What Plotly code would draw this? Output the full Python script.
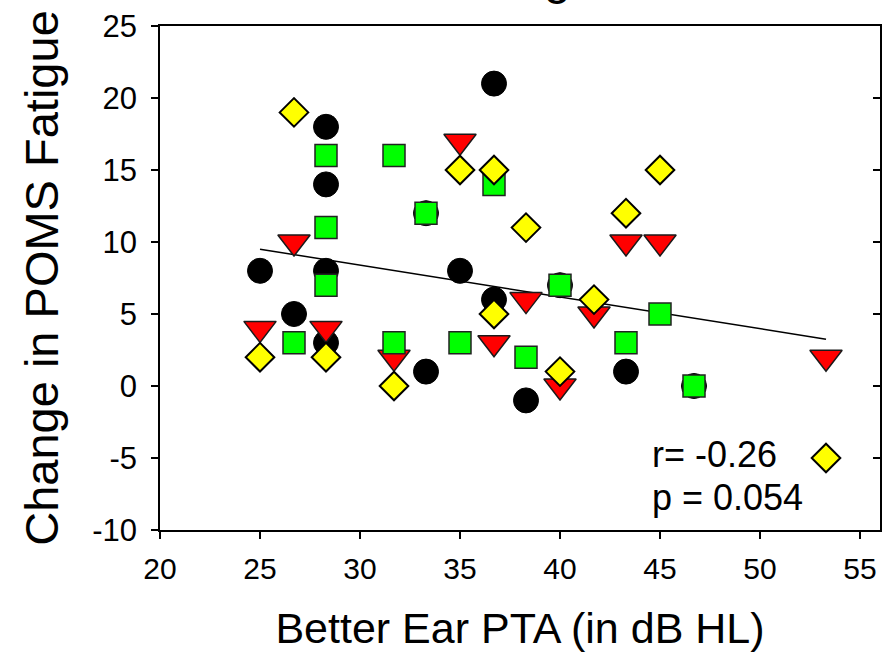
import plotly.graph_objects as go

# ---- data ----
circle_x = [25, 26.7, 28.3, 28.3, 28.3, 28.3, 33.3, 33.3, 35, 36.7, 36.7, 38.3, 40, 43.3, 46.7]
circle_y = [8, 5, 18, 14, 8, 3, 12, 1, 8, 21, 6, -1, 7, 1, 0]

tri_x = [25, 26.7, 28.3, 31.7, 35, 36.7, 38.3, 40, 41.7, 43.3, 45, 53.3]
tri_y = [4, 10, 4, 2, 17, 3, 6, 0, 5, 10, 10, 2]

square_x = [26.7, 28.3, 28.3, 28.3, 31.7, 31.7, 33.3, 35, 36.7, 38.3, 40, 43.3, 45, 46.7]
square_y = [3, 16, 11, 7, 16, 3, 12, 3, 14, 2, 7, 3, 5, 0]

diamond_x = [25, 26.7, 28.3, 31.7, 35, 36.7, 36.7, 38.3, 40, 41.7, 43.3, 45, 53.3]
diamond_y = [2, 19, 2, 0, 15, 15, 5, 11, 1, 6, 12, 15, -5]

fit_x = [25, 53.3]
fit_y = [9.5, 3.25]

x_ticks = [20, 25, 30, 35, 40, 45, 50, 55]
x_ticktext = ["20", "25", "30", "35", "40", "45", "50", "55"]
y_ticks = [-10, -5, 0, 5, 10, 15, 20, 25]
y_ticktext = ["-10", "-5", "0", "5", "10", "15", "20", "25"]

title_text = "Fatigue"
x_title = "Better Ear PTA (in dB HL)"
y_title = "Change in POMS Fatigue"
stat_r = "r= -0.26"
stat_p = "p = 0.054"

FONT = "Arial, 'Liberation Sans', sans-serif"

fig = go.Figure()

fig.add_trace(go.Scatter(x=fit_x, y=fit_y, mode="lines",
                         line=dict(color="black", width=1.5), showlegend=False,
                         hoverinfo="skip"))
fig.add_trace(go.Scatter(x=circle_x, y=circle_y, mode="markers", showlegend=False,
                         marker=dict(symbol="circle", size=25, color="black",
                                     line=dict(color="black", width=1))))
fig.add_trace(go.Scatter(x=tri_x, y=tri_y, mode="markers", showlegend=False,
                         marker=dict(symbol="triangle-down", size=28, color="#ff0000",
                                     line=dict(color="#1a1a1a", width=1.5))))
fig.add_trace(go.Scatter(x=square_x, y=square_y, mode="markers", showlegend=False,
                         marker=dict(symbol="square", size=22, color="#00ff00",
                                     line=dict(color="#222222", width=1.5))))
fig.add_trace(go.Scatter(x=diamond_x, y=diamond_y, mode="markers", showlegend=False,
                         marker=dict(symbol="diamond", size=22, color="#ffff00",
                                     line=dict(color="black", width=2))))
# invisible trace to activate the right-hand mirror axis
fig.add_trace(go.Scatter(x=[None], y=[None], yaxis="y2", showlegend=False))

fig.update_layout(
    width=891, height=652,
    margin=dict(l=160, r=11, t=26, b=122),
    paper_bgcolor="white", plot_bgcolor="white",
    font=dict(family=FONT, color="black"),
    xaxis=dict(range=[20, 56], tickvals=x_ticks, ticktext=x_ticktext, ticks="outside",
               ticklen=7, tickwidth=1.5, tickcolor="black", showline=True,
               linecolor="black", linewidth=1.5, mirror=True, showgrid=False,
               zeroline=False, tickfont=dict(size=30, family=FONT), ticklabelstandoff=4,
               automargin=False,
               title=dict(text=x_title, font=dict(size=43, family=FONT), standoff=29)),
    yaxis=dict(range=[-10, 25], tickvals=y_ticks, ticktext=y_ticktext, ticks="outside",
               ticklen=7, tickwidth=1.5, tickcolor="black", showline=True,
               linecolor="black", linewidth=1.5, mirror=True, showgrid=False,
               zeroline=False, tickfont=dict(size=31, family=FONT), ticklabelstandoff=8,
               automargin=False,
               title=dict(text=y_title, font=dict(size=47, family=FONT), standoff=19)),
    yaxis2=dict(range=[-10, 25], tickvals=y_ticks, overlaying="y", side="right",
                ticks="inside", ticklen=7, tickwidth=1.5, tickcolor="black",
                showticklabels=False, showgrid=False, zeroline=False, showline=False,
                automargin=False),
    annotations=[
        dict(text=stat_r, xref="paper", yref="paper", x=0.68, y=0.149,
             xanchor="left", yanchor="middle", showarrow=False,
             font=dict(size=36, family=FONT)),
        dict(text=stat_p, xref="paper", yref="paper", x=0.68, y=0.0635,
             xanchor="left", yanchor="middle", showarrow=False,
             font=dict(size=36, family=FONT)),
        dict(text=title_text, xref="paper", yref="paper", x=0.533, y=1.0,
             yshift=49, xanchor="center", yanchor="middle", showarrow=False,
             font=dict(size=48, family=FONT)),
    ],
)

fig.write_html("out.html")
